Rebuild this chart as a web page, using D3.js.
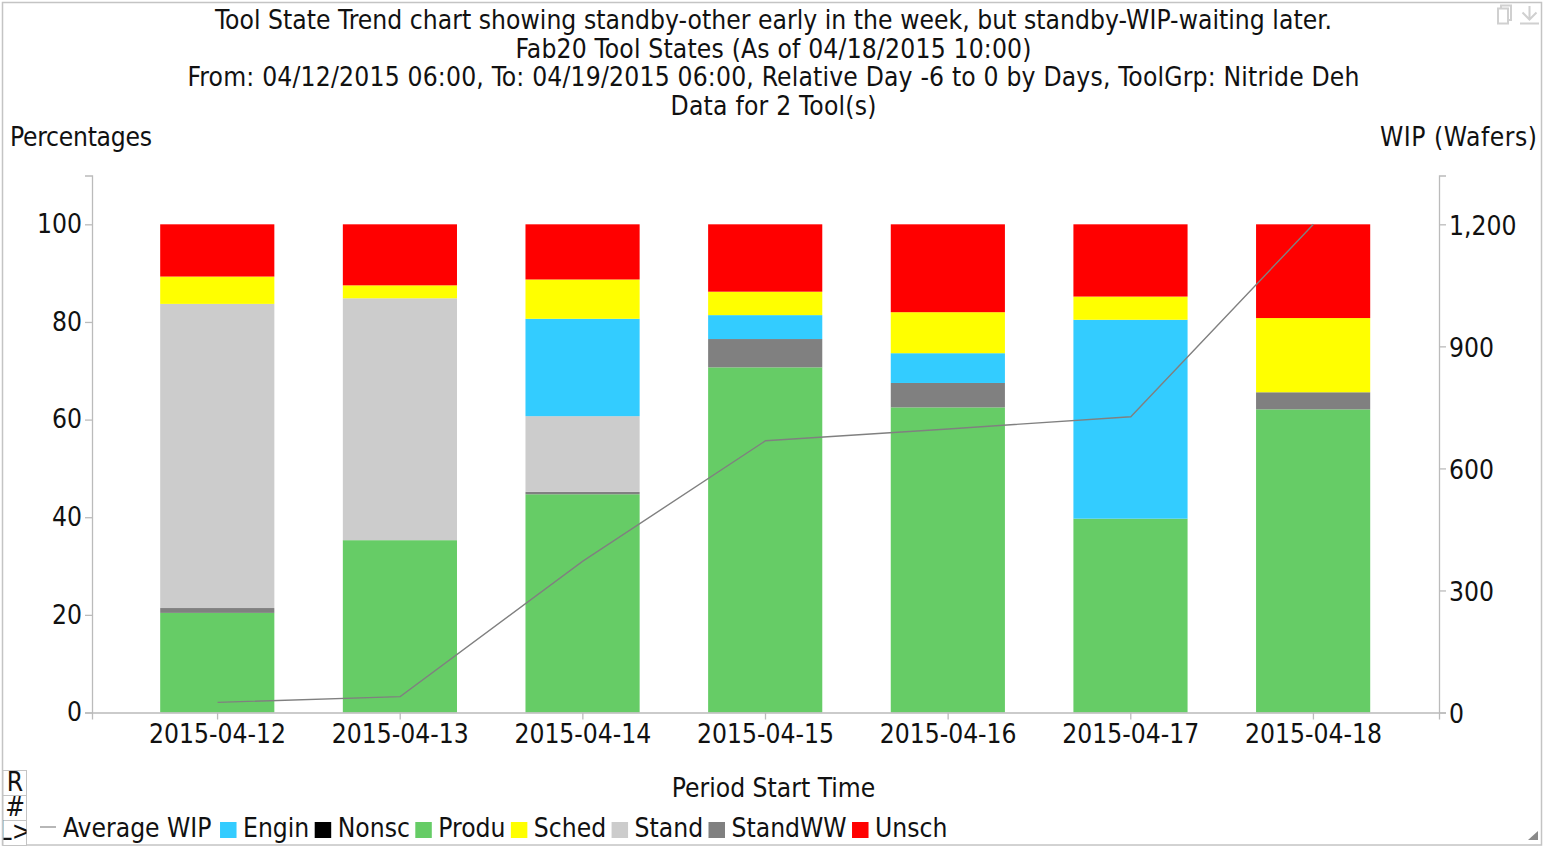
<!DOCTYPE html>
<html><head><meta charset="utf-8">
<script src="https://cdn.jsdelivr.net/npm/d3@7"></script>
<style>
html,body{margin:0;padding:0;background:#fff}
svg{display:block}
text{font-family:"DejaVu Sans",sans-serif;font-stretch:condensed;font-size:26.2px;fill:#111}
</style></head><body>
<svg id="c" width="1548" height="850"></svg>
<script>
const titleLines = [
  "Tool State Trend chart showing standby-other early in the week, but standby-WIP-waiting later.",
  "Fab20 Tool States (As of 04/18/2015 10:00)",
  "From: 04/12/2015 06:00, To: 04/19/2015 06:00, Relative Day -6 to 0 by Days, ToolGrp: Nitride Deh",
  "Data for 2 Tool(s)"
];
const days = ["2015-04-12","2015-04-13","2015-04-14","2015-04-15","2015-04-16","2015-04-17","2015-04-18"];
const produ   = [20.4, 35.3, 44.7, 70.7, 62.5, 39.7, 62.1];
const standWW = [1.0, 0, 0.5, 5.8, 5.0, 0, 3.5];
const stand   = [62.3, 49.55, 15.5, 0, 0, 0, 0];
const engin   = [0, 0, 19.95, 4.9, 6.1, 40.75, 0];
const nonsc   = [0, 0, 0, 0, 0, 0, 0];
const sched   = [5.6, 2.65, 8.05, 4.8, 8.4, 4.75, 15.2];
const unsch   = [10.7, 12.5, 11.3, 13.8, 18.0, 14.8, 19.2];
const avgWip  = [25, 39, 372, 668, 697, 727, 1200];
const leftTicks = [0,20,40,60,80,100];
const rightTicks = [0,300,600,900,1200];
const stackKeys = ["Produ","StandWW","Stand","Engin","Nonsc","Sched","Unsch"];
const stackVals = [produ,standWW,stand,engin,nonsc,sched,unsch];
const stackCols = ["#66cc66","#808080","#cccccc","#33ccff","#000000","#ffff00","#ff0000"];
const legendNames = ["Engin","Nonsc","Produ","Sched","Stand","StandWW","Unsch"];
const legendCols = ["#33ccff","#000000","#66cc66","#ffff00","#cccccc","#808080","#ff0000"];
const sideButtons = ["R","#","L>"];

const svg = d3.select("#c");
const axisCol = "#bbbbbb";
svg.append("rect").attr("x",2.5).attr("y",2.5).attr("width",1539).attr("height",842.5)
  .attr("fill","#fff").attr("stroke","#c4c4c4").attr("stroke-width",1.5);

const cx = 773.5;
const titleFit = [1117, 516, 1172, 206];
svg.selectAll("text.title").data(titleLines).join("text").attr("class","title")
  .attr("x",cx).attr("y",(d,i)=>28.8+i*28.7).attr("text-anchor","middle")
  .attr("textLength",(d,i)=>titleFit[i]).attr("lengthAdjust","spacing").text(d=>d);
svg.append("text").attr("x",10).attr("y",145.5).attr("textLength",142).text("Percentages");
svg.append("text").attr("x",1537).attr("y",145.5).attr("text-anchor","end").attr("textLength",157).text("WIP (Wafers)");
svg.append("text").attr("x",cx).attr("y",796.5).attr("text-anchor","middle").text("Period Start Time");

const x = d3.scaleBand().domain(days).range([92,1439]).padding(0.375);
const y = d3.scaleLinear().domain([0,110]).range([712.5,175.5]);
const yR = d3.scaleLinear().domain([0,1320]).range([712.5,175.5]);

const rows = days.map((d,i)=>{const r={day:d};stackKeys.forEach((k,j)=>r[k]=stackVals[j][i]);return r;});
const series = d3.stack().keys(stackKeys)(rows);
svg.append("g").selectAll("g").data(series).join("g")
  .attr("fill",(d,i)=>stackCols[i])
  .selectAll("rect").data(d=>d).join("rect")
  .attr("x",d=>x(d.data.day)-0.3).attr("width",x.bandwidth())
  .attr("y",d=>y(d[1])).attr("height",d=>y(d[0])-y(d[1]));

function style(g){
  g.selectAll("path,line").attr("stroke",axisCol).attr("stroke-width",1.3);
  g.selectAll("text").style("font-size","26.2px").attr("fill","#111");
}
svg.append("g").attr("transform","translate(92,0)")
  .call(d3.axisLeft(y).tickValues(leftTicks).tickSize(7).tickPadding(3).tickFormat(d3.format("d")))
  .call(style);
svg.append("g").attr("transform","translate(1439,0)")
  .call(d3.axisRight(yR).tickValues(rightTicks).tickSize(7).tickPadding(3).tickFormat(d3.format(",")))
  .call(style)
  .call(g=>g.selectAll("text").attr("transform","translate(0,1.5)"));
svg.append("g").attr("transform","translate(0,712.5)")
  .call(d3.axisBottom(x).tickSize(7).tickPadding(5))
  .call(style);

const line = d3.line().x((d,i)=>x(days[i])+x.bandwidth()/2).y(d=>yR(d));
svg.append("path").datum(avgWip).attr("d",line).attr("fill","none").attr("stroke","#808080").attr("stroke-width",1.4);

/* legend */
const lg = svg.append("g");
lg.append("line").attr("x1",40).attr("x2",56).attr("y1",827).attr("y2",827).attr("stroke","#999").attr("stroke-width",1.4);
let lx = 63;
const lt = lg.append("text").attr("x",lx).attr("y",836.5).text("Average WIP");
lx += lt.node().getComputedTextLength()+8.5;
legendNames.forEach((n,i)=>{
  lg.append("rect").attr("x",lx).attr("y",822).attr("width",16.5).attr("height",16).attr("fill",legendCols[i]);
  const t = lg.append("text").attr("x",lx+23).attr("y",836.5).text(n);
  lx += 23 + t.node().getComputedTextLength() + 5.4;
});

/* side buttons */
svg.append("clipPath").attr("id","btnclip").append("rect").attr("x",3.5).attr("y",770).attr("width",23).attr("height",75);
const bg = svg.append("g");
sideButtons.forEach((s,i)=>{
  bg.append("rect").attr("x",3).attr("y",770.5+i*25).attr("width",23.5).attr("height",25)
    .attr("fill","#fff").attr("stroke","#c4c4c4").attr("stroke-width",1);
});
const bt = svg.append("g").attr("clip-path","url(#btnclip)");
sideButtons.forEach((s,i)=>{
  bt.append("text").attr("x",15).attr("y",791+i*24.5).attr("text-anchor","middle").text(s);
});

/* toolbar icons */
const ic = svg.append("g").attr("fill","none").attr("stroke","#d0d0d0").attr("stroke-width",2);
ic.append("rect").attr("x",1498).attr("y",8.5).attr("width",10).attr("height",15);
ic.append("path").attr("d","M1501 8V5.5H1511V20H1509");
ic.append("path").attr("d","M1529.5 6V19.5M1522.5 12.5L1529.5 19.5L1536.5 12.5M1520 23.5H1539");

/* resize grip */
svg.append("path").attr("d","M1538 831V840H1528Z").attr("fill","#8a8a8a");
</script>
</body></html>
